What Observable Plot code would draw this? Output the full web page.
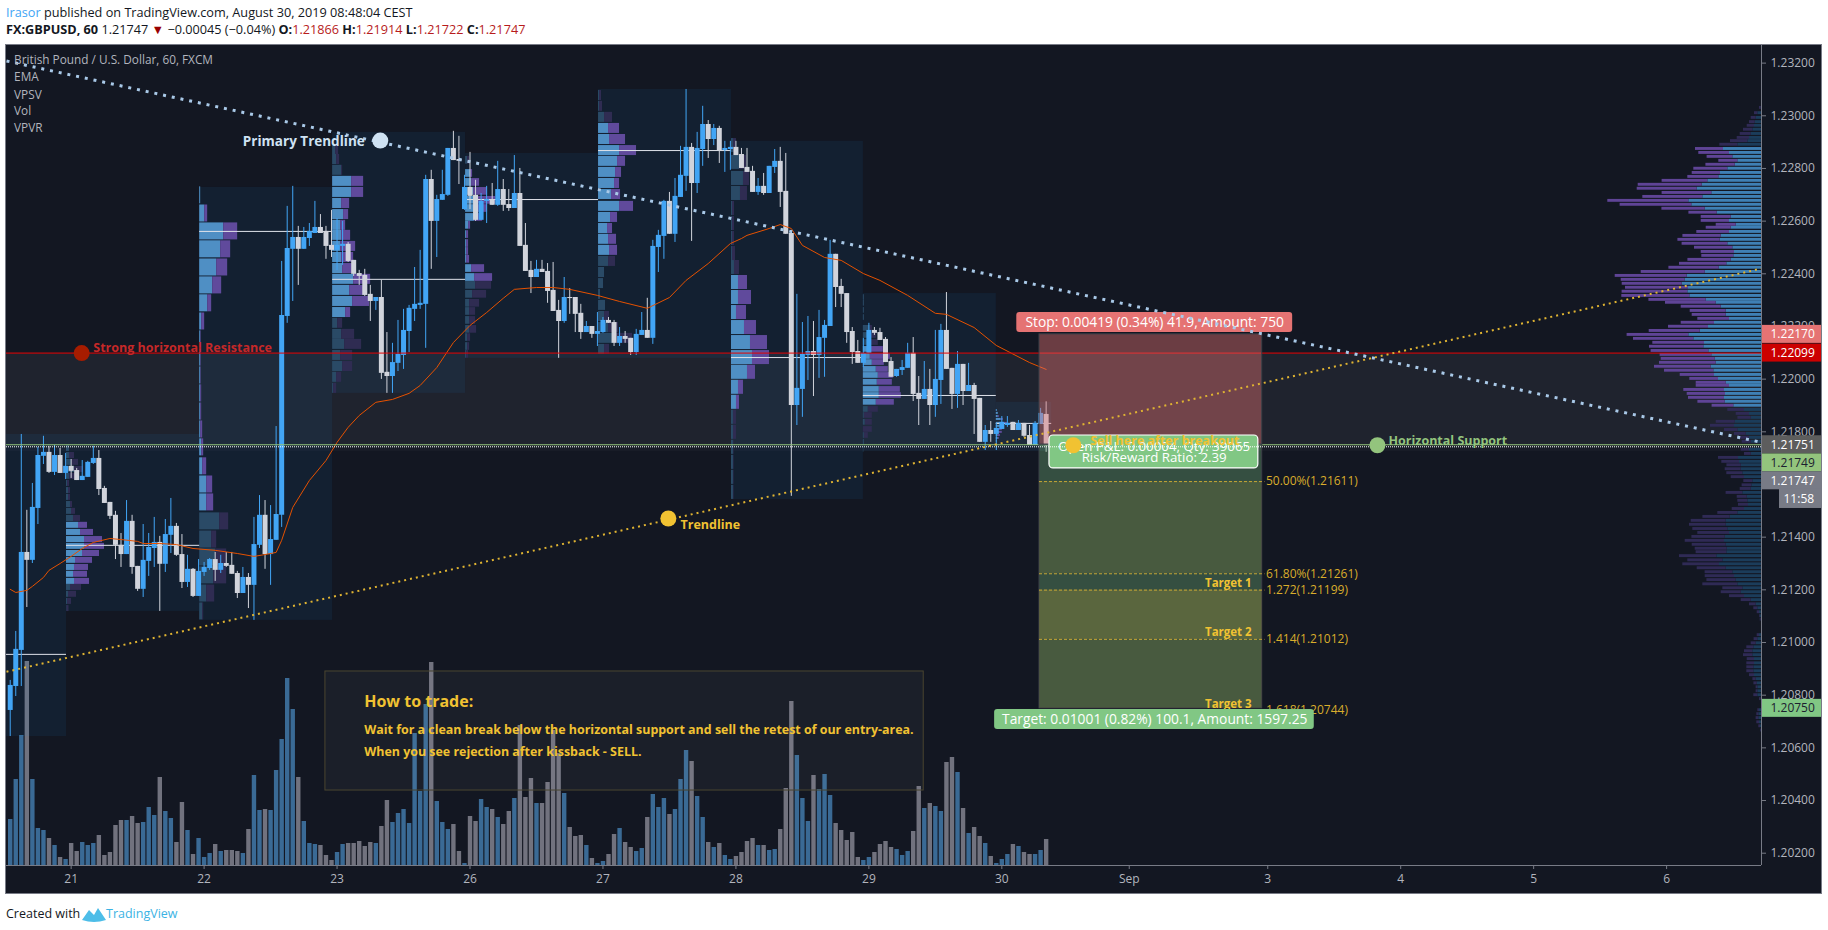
<!DOCTYPE html>
<html><head><meta charset="utf-8">
<script src="https://cdn.jsdelivr.net/npm/d3@7"></script>
<script src="https://cdn.jsdelivr.net/npm/@observablehq/plot@0.6"></script>
<style>
html,body{margin:0;padding:0;background:#fff;width:1828px;overflow:hidden}
body{font-family:"Open Sans",sans-serif}
#head{height:44px;position:relative;color:#131722;font-size:12.7px;white-space:nowrap}
#head div{position:absolute;left:6px}
#stage{position:relative;width:1828px;height:850px;background:#131722}
#stage svg{position:absolute;left:0;top:0}
#edge{position:absolute;left:5px;top:0;width:1815px;height:848px;border:1px solid #787b86;z-index:5;pointer-events:none}
#white{position:absolute;left:0;top:0;width:5px;height:850px;background:#fff}
#white2{position:absolute;left:1822px;top:0;width:6px;height:850px;background:#fff}
#foot{position:relative;height:36px;color:#131722;font-size:12.5px;white-space:nowrap}
#foot span,#foot svg{position:absolute}
</style></head><body>
<div id="head">
<div style="top:3px"><span style="color:#42a5f5">Irasor</span> published on TradingView.com, August 30, 2019 08:48:04 CEST</div>
<div style="top:20px"><b>FX:GBPUSD, 60</b> 1.21747 <span style="color:#990000">▼</span> −0.00045 (−0.04%) <b>O:</b><span style="color:#b71c1c">1.21866</span> <b>H:</b><span style="color:#b71c1c">1.21914</span> <b>L:</b><span style="color:#b71c1c">1.21722</span> <b>C:</b><span style="color:#b71c1c">1.21747</span></div>
</div>
<div id="stage"><div id="white"></div><div id="white2"></div><div id="edge"></div></div>
<div id="foot"><span style="left:6px;top:11px">Created with</span>
<svg style="left:82px;top:12px" width="24" height="17" viewBox="0 0 24 17"><path d="M0 14 L7 4 L12 9 L16 2 L24 14 Q12 18 0 14Z" fill="#4dbde8"/></svg>
<span style="left:106px;top:11px;color:#3bb3e4">TradingView</span></div>
<script>
const open=[1.20742,1.20833,1.20970,1.21342,1.21312,1.21509,1.21707,1.21722,1.21646,1.21710,
1.21642,1.21669,1.21653,1.21615,1.21627,1.21680,1.21699,1.21585,1.21532,1.21483,
1.21369,1.21334,1.21460,1.21289,1.21202,1.21308,1.21357,1.21380,1.21297,1.21407,
1.21441,1.21334,1.21228,1.21278,1.21175,1.21266,1.21281,1.21315,1.21274,1.21300,
1.21293,1.21262,1.21186,1.21247,1.21217,1.21369,1.21483,1.21334,1.21388,1.21483,
1.22238,1.22493,1.22538,1.22493,1.22534,1.22553,1.22576,1.22561,1.22508,1.22489,
1.22504,1.22512,1.22451,1.22401,1.22394,1.22322,1.22295,1.22310,1.22026,1.22010,
1.22060,1.22090,1.22181,1.22265,1.22280,1.22284,1.22758,1.22599,1.22679,1.22698,
1.22876,1.22834,1.22644,1.22728,1.22698,1.22603,1.22675,1.22682,1.22660,1.22720,
1.22663,1.22648,1.22705,1.22508,1.22413,1.22386,1.22417,1.22409,1.22337,1.22261,
1.22219,1.22310,1.22310,1.22250,1.22177,1.22200,1.22170,1.22177,1.22223,1.22215,
1.22136,1.22162,1.22155,1.22101,1.22166,1.22185,1.22155,1.22500,1.22542,1.22675,
1.22550,1.22690,1.22770,1.22880,1.22743,1.22872,1.22967,1.22910,1.22952,1.22868,
1.22872,1.22880,1.22853,1.22804,1.22789,1.22709,1.22732,1.22705,1.22804,1.22827,
1.22713,1.22553,1.21900,1.21961,1.22090,1.22105,1.22090,1.22155,1.22200,1.22474,
1.22352,1.22325,1.22181,1.22105,1.22060,1.22098,1.22185,1.22177,1.22151,1.22067,
1.22010,1.22033,1.22041,1.22098,1.21946,1.21923,1.21961,1.21900,1.21995,1.22185,
1.22041,1.21942,1.22056,1.21953,1.21976,1.21927,1.21760,1.21805,1.21790,1.21809,
1.21824,1.21836,1.21805,1.21832,1.21786,1.21748,1.21828,1.21866];
const high=[1.20856,1.21042,1.21790,1.21502,1.21604,1.21741,1.21783,1.21745,1.21748,1.21737,
1.21718,1.21695,1.21661,1.21691,1.21688,1.21745,1.21729,1.21593,1.21532,1.21498,
1.21414,1.21539,1.21483,1.21289,1.21448,1.21414,1.21475,1.21403,1.21467,1.21547,
1.21452,1.21410,1.21331,1.21281,1.21315,1.21304,1.21319,1.21342,1.21331,1.21342,
1.21342,1.21270,1.21285,1.21262,1.21475,1.21558,1.21539,1.21520,1.21820,1.22447,
1.22656,1.22732,1.22580,1.22576,1.22591,1.22675,1.22625,1.22580,1.22641,1.22610,
1.22599,1.22519,1.22451,1.22413,1.22417,1.22356,1.22310,1.22375,1.22177,1.22136,
1.22223,1.22265,1.22280,1.22424,1.22489,1.22774,1.22793,1.22698,1.22793,1.22876,
1.22941,1.22922,1.22774,1.22861,1.22755,1.22705,1.22732,1.22743,1.22827,1.22758,
1.22720,1.22849,1.22800,1.22591,1.22447,1.22451,1.22451,1.22439,1.22443,1.22299,
1.22386,1.22344,1.22310,1.22284,1.22219,1.22200,1.22253,1.22234,1.22234,1.22223,
1.22196,1.22181,1.22155,1.22189,1.22253,1.22307,1.22527,1.22565,1.22679,1.22709,
1.22762,1.22884,1.23100,1.22895,1.22937,1.23036,1.22982,1.22967,1.22960,1.22903,
1.22903,1.22903,1.22876,1.22876,1.22808,1.22762,1.22781,1.22808,1.22872,1.22880,
1.22857,1.22553,1.22322,1.22215,1.22238,1.22219,1.22261,1.22223,1.22527,1.22474,
1.22379,1.22325,1.22196,1.22147,1.22155,1.22212,1.22196,1.22193,1.22158,1.22082,
1.22037,1.22071,1.22136,1.22158,1.22010,1.22067,1.22037,1.22185,1.22208,1.22329,
1.22041,1.22105,1.22056,1.22060,1.21984,1.21927,1.21824,1.21839,1.21832,1.21858,
1.21858,1.21836,1.21843,1.21832,1.21824,1.21839,1.21889,1.21914];
const low=[1.20643,1.20795,1.20833,1.21133,1.21300,1.21448,1.21676,1.21642,1.21634,1.21642,
1.21619,1.21623,1.21615,1.21615,1.21627,1.21676,1.21558,1.21528,1.21467,1.21315,
1.21285,1.21334,1.21259,1.21194,1.21171,1.21251,1.21285,1.21118,1.21266,1.21338,
1.21327,1.21205,1.21209,1.21171,1.21175,1.21251,1.21274,1.21232,1.21262,1.21285,
1.21259,1.21167,1.21186,1.21129,1.21084,1.21357,1.21278,1.21217,1.21388,1.21437,
1.22212,1.22295,1.22356,1.22493,1.22504,1.22553,1.22553,1.22455,1.22462,1.22413,
1.22432,1.22443,1.22390,1.22356,1.22314,1.22219,1.22261,1.21999,1.21946,1.21946,
1.22029,1.22037,1.22101,1.22219,1.22265,1.22117,1.22417,1.22462,1.22679,1.22694,
1.22830,1.22739,1.22641,1.22644,1.22599,1.22603,1.22591,1.22660,1.22656,1.22637,
1.22637,1.22648,1.22504,1.22409,1.22325,1.22386,1.22405,1.22288,1.22257,1.22079,
1.22212,1.22246,1.22177,1.22151,1.22177,1.22155,1.22124,1.22174,1.22212,1.22124,
1.22124,1.22136,1.22090,1.22090,1.22166,1.22155,1.22132,1.22405,1.22455,1.22550,
1.22519,1.22690,1.22713,1.22523,1.22705,1.22808,1.22838,1.22887,1.22819,1.22785,
1.22793,1.22849,1.22800,1.22785,1.22709,1.22698,1.22698,1.22705,1.22781,1.22652,
1.22550,1.21555,1.21824,1.21855,1.21995,1.21934,1.22003,1.22007,1.22200,1.22272,
1.22272,1.22136,1.22056,1.22060,1.22044,1.22098,1.22166,1.22147,1.22063,1.22007,
1.22007,1.22014,1.22041,1.21915,1.21824,1.21923,1.21824,1.21855,1.21904,1.22037,
1.21885,1.21889,1.21900,1.21953,1.21790,1.21760,1.21729,1.21760,1.21729,1.21809,
1.21817,1.21805,1.21805,1.21779,1.21748,1.21748,1.21828,1.21722];
const close=[1.20837,1.20974,1.21342,1.21312,1.21513,1.21710,1.21722,1.21646,1.21710,1.21642,
1.21669,1.21650,1.21615,1.21631,1.21684,1.21699,1.21581,1.21528,1.21479,1.21369,
1.21334,1.21460,1.21285,1.21202,1.21312,1.21361,1.21380,1.21297,1.21410,1.21441,
1.21331,1.21228,1.21278,1.21175,1.21270,1.21285,1.21315,1.21274,1.21300,1.21289,
1.21259,1.21186,1.21247,1.21217,1.21372,1.21483,1.21334,1.21391,1.21486,1.22242,
1.22496,1.22538,1.22493,1.22538,1.22561,1.22576,1.22553,1.22504,1.22489,1.22508,
1.22512,1.22447,1.22398,1.22390,1.22318,1.22295,1.22310,1.22022,1.22010,1.22063,
1.22094,1.22185,1.22269,1.22284,1.22288,1.22758,1.22599,1.22682,1.22701,1.22876,
1.22830,1.22827,1.22728,1.22694,1.22603,1.22675,1.22682,1.22660,1.22720,1.22660,
1.22648,1.22705,1.22504,1.22409,1.22386,1.22417,1.22405,1.22333,1.22257,1.22219,
1.22310,1.22306,1.22246,1.22177,1.22200,1.22170,1.22181,1.22223,1.22212,1.22136,
1.22162,1.22151,1.22101,1.22170,1.22185,1.22155,1.22504,1.22546,1.22675,1.22550,
1.22694,1.22774,1.22880,1.22743,1.22876,1.22967,1.22910,1.22952,1.22868,1.22876,
1.22880,1.22849,1.22800,1.22785,1.22709,1.22732,1.22705,1.22808,1.22827,1.22709,
1.22550,1.21900,1.21965,1.22094,1.22105,1.22090,1.22158,1.22204,1.22474,1.22348,
1.22322,1.22177,1.22101,1.22060,1.22098,1.22185,1.22174,1.22147,1.22063,1.22007,
1.22037,1.22044,1.22098,1.21942,1.21923,1.21961,1.21900,1.21999,1.22185,1.22037,
1.21942,1.22056,1.21953,1.21976,1.21923,1.21760,1.21805,1.21790,1.21813,1.21836,
1.21832,1.21805,1.21832,1.21783,1.21748,1.21832,1.21870,1.21747];
const volume=[46,86,130,204,86,37,35,27,20,8,6,22,14,23,20,22,30,10,13,40,45,45,49,42,43,58,50,88,54,47,
23,63,35,11,27,8,12,21,14,15,15,14,12,36,90,55,56,55,95,126,187,156,88,44,22,21,20,10,5,13,
21,22,22,24,19,23,22,39,65,43,52,56,42,132,74,161,203,64,43,36,41,14,2,49,44,66,58,56,48,41,
54,67,140,68,87,62,62,83,135,112,72,38,29,30,20,7,2,4,11,31,37,23,18,14,17,48,71,58,67,51,
56,86,115,104,69,48,23,18,22,10,6,9,13,24,27,20,20,15,16,36,77,164,110,67,44,90,76,91,70,42,
35,25,33,8,5,8,13,21,24,18,16,10,14,34,79,57,62,59,54,103,108,93,57,32,38,29,22,9,2,6,
11,21,19,13,11,11,15,26];
const emaIndex=[0,1,3,4,6,7,9,11,13,15,18,20,23,24,27,30,33,37,41,44,46,48,49,51,54,57,59,61,63,66,69,72,74,77,80,83,86,89,91,95,98,101,106,110,115,119,122,126,130,132,133,137,139,141,143,147,150,154,157,162,167,169,174,178,184,187];
const emaValue=[1.21202,1.21190,1.21198,1.21213,1.21247,1.21274,1.21300,1.21327,1.21357,1.21380,1.21395,1.21391,1.21384,1.21376,1.21376,1.21372,1.21357,1.21350,1.21338,1.21327,1.21334,1.21342,1.21388,1.21513,1.21615,1.21691,1.21760,1.21817,1.21862,1.21912,1.21923,1.21946,1.21976,1.22044,1.22139,1.22204,1.22253,1.22307,1.22341,1.22348,1.22348,1.22341,1.22318,1.22295,1.22269,1.22310,1.22375,1.22439,1.22515,1.22534,1.22546,1.22572,1.22587,1.22572,1.22508,1.22462,1.22451,1.22401,1.22375,1.22318,1.22250,1.22246,1.22196,1.22128,1.22063,1.22037];
const dayIndex=[11,35,59,83,107,131,155,179,202,227,251,275,299];
const dayLabel=["21","22","23","26","27","28","29","30","Sep","3","4","5","6"];
const priceTicks=[1.202,1.204,1.206,1.208,1.21,1.212,1.214,1.216,1.218,1.22,1.222,1.224,1.226,1.228,1.23,1.232];
const sessStart=[-0.67,10.16,34.2,58.2,82.2,106.2,130.2,154,178];
const sessEnd=[10.16,34.2,58.2,82.2,106.2,130.2,154,178,188];
const sessTop=[1.21790,1.21790,1.22728,1.22937,1.22857,1.23100,1.22903,1.22325,1.21912];
const sessBottom=[1.20643,1.21118,1.21084,1.21946,1.22079,1.22079,1.21543,1.21726,1.21726];
const sessPoc=[1.20955,1.21369,1.22561,1.22379,1.22682,1.22868,1.22082,1.21938,1.21832];
const sessVaHigh=[0,1.21450,1.22700,1.22755,1.22785,1.22955,1.22370,1.22115,1.21900];
const sessVaLow=[0,1.21230,1.21530,1.22250,1.22385,1.22485,1.21910,1.21910,1.21750];
const sessRowHalf=[0,0.000114,0.000323,0.00019,0.000146,0.00019,0.000266,0.000108,0.000038];
const profSession=[1,1,1,1,1,1,1,1,1,1,1,1,1,1,1,1,1,1,1,1,1,1,1,1,
2,2,2,2,2,2,2,2,2,2,2,2,2,2,2,2,2,2,2,2,2,2,2,2,
3,3,3,3,3,3,3,3,3,3,3,3,3,3,3,3,3,3,3,3,3,3,3,
4,4,4,4,4,4,4,4,4,4,4,4,4,4,4,4,4,4,4,4,4,4,4,
5,5,5,5,5,5,5,5,5,5,5,5,5,5,5,5,5,5,5,5,5,5,5,5,
6,6,6,6,6,6,6,6,6,6,6,6,6,6,6,6,6,6,6,6,6,6,6,6,
7,7,7,7,7,7,7,7,7,7,7,7,7,7,7,7,7,7,7,7,7,7,7,
8,8,8,8,8,8,8,8,8,8,8];
const profPrice=[1.21737,1.21710,1.21684,1.21657,1.21631,1.21604,1.21577,1.21551,1.21524,1.21498,1.21471,1.21445,1.21418,1.21391,1.21365,1.21338,1.21312,1.21285,1.21259,1.21232,1.21209,1.21183,1.21156,1.21129,
1.22698,1.22629,1.22561,1.22493,1.22424,1.22356,1.22288,1.22219,1.22151,1.22082,1.22014,1.21946,1.21877,1.21809,1.21741,1.21669,1.21600,1.21532,1.21460,1.21391,1.21323,1.21255,1.21186,1.21118,
1.22872,1.22834,1.22793,1.22751,1.22709,1.22667,1.22625,1.22584,1.22546,1.22504,1.22462,1.22420,1.22379,1.22337,1.22295,1.22253,1.22212,1.22170,1.22132,1.22090,1.22048,1.22007,1.21965,
1.22831,1.22781,1.22747,1.22713,1.22679,1.22648,1.22614,1.22584,1.22549,1.22515,1.22485,1.22455,1.22420,1.22386,1.22356,1.22322,1.22288,1.22257,1.22223,1.22189,1.22158,1.22124,1.22094,
1.23077,1.23036,1.22994,1.22952,1.22910,1.22868,1.22827,1.22785,1.22743,1.22701,1.22656,1.22614,1.22572,1.22531,1.22489,1.22447,1.22405,1.22363,1.22322,1.22280,1.22238,1.22196,1.22155,1.22113,
1.22887,1.22823,1.22762,1.22705,1.22648,1.22591,1.22534,1.22477,1.22424,1.22367,1.22310,1.22253,1.22196,1.22139,1.22082,1.22026,1.21969,1.21912,1.21855,1.21798,1.21741,1.21684,1.21627,1.21570,
1.22310,1.22288,1.22261,1.22234,1.22193,1.22166,1.22139,1.22113,1.22086,1.22063,1.22037,1.22014,1.21988,1.21961,1.21938,1.21912,1.21885,1.21862,1.21836,1.21809,1.21786,1.21760,1.21733,
1.21881,1.21870,1.21858,1.21847,1.21832,1.21821,1.21809,1.21798,1.21786,1.21775,1.21764];
const profUp=[3,3,5,8,3,1,2,2,4,5,7,12,14,18,18,16,9,8,7,8,4,2,1,0.5,
1,5,24,21,17,13,8,2,1,1,1,1,1,1,2,3,7,7,20,12,16,14,7,3,
3,4,9,19,19,9,11,8,9,8,9,10,21,17,20,13,5,9,12,8,10,4,1,
2,5,6,8,11,9,9,3,1,1,1,1,6,9,10,7,4,4,4,4,2,2,1,
1,1,6,10,11,21,19,17,16,13,21,12,9,10,11,10,6,5,2,7,6,10,15,6,
2,8,12,9,1,1,1,1,3,7,7,5,13,19,21,16,7,5,2,2,2,2,2,2,
1,1,1,1,7,5,6,7,7,9,13,15,14,16,16,13,5,1,2,0,1,1,0.5,
1,2,2,5,7,5,3,3,2,2,1];
const profDown=[0,5,7,9,6,2,2,2,2,4,7,9,13,18,20,17,17,14,14,15,11,8,4,2,
0,3,14,10,11,9,4,3,0.5,0.5,0.5,1,1,2,2,4,6,7,9,5,11,13,8,1,
3,3,1,12,12,8,5,5,9,15,12,10,17,18,17,5,5,13,17,12,10,5,3,
2,2,8,14,19,13,8,2,2,2,2,3,13,18,16,14,10,6,6,7,3,2,2,
2,3,8,11,16,17,8,6,5,9,14,7,5,8,8,7,0,0,0,0,5,10,19,5,
3,7,6,7,2,2,2,3,5,9,13,10,12,17,17,8,5,3,3,3,0.5,0.5,0.5,0.5,
0,0,0,0,2,8,9,13,20,12,12,15,15,21,22,18,10,8,7,9,4,0,0,
0,0,1,2,4,3,3,3,2,1,0];
const vpvrPrice=[1.23030,1.23010,1.22992,1.22976,1.22962,1.22947,1.22931,1.22916,1.22904,1.22890,1.22874,1.22859,1.22844,1.22829,1.22814,1.22799,1.22783,1.22768,1.22753,1.22738,1.22723,1.22707,1.22692,1.22677,1.22662,1.22647,1.22632,1.22616,1.22601,1.22586,1.22575,1.22559,1.22544,1.22529,1.22514,1.22499,1.22483,1.22468,1.22453,1.22438,1.22423,1.22407,1.22392,1.22377,1.22362,1.22347,1.22332,1.22316,1.22301,1.22290,1.22275,1.22259,1.22244,1.22229,1.22214,1.22199,1.22183,1.22168,1.22153,1.22138,1.22123,1.22107,1.22092,1.22077,1.22062,1.22047,1.22032,1.22016,1.22001,1.21986,1.21975,1.21959,1.21944,1.21929,1.21914,1.21899,1.21883,1.21868,1.21853,1.21838,1.21823,1.21807,1.21792,1.21777,1.21762,1.21732,1.21716,1.21701,1.21686,1.21673,1.21658,1.21643,1.21628,1.21613,1.21597,1.21583,1.21568,1.21553,1.21538,1.21523,1.21507,1.21492,1.21477,1.21462,1.21447,1.21431,1.21416,1.21401,1.21386,1.21371,1.21356,1.21343,1.21328,1.21312,1.21297,1.21282,1.21267,1.21252,1.21237,1.21221,1.21206,1.21191,1.21176,1.21161,1.21145,1.21130,1.21115,1.21100,1.21087,1.21028,1.21013,1.20997,1.20982,1.20967,1.20952,1.20937,1.20921,1.20906,1.20891,1.20876,1.20861,1.20845,1.20830,1.20815,1.20800,1.20785,1.20743,1.20728,1.20713,1.20697,1.20682,1.20666];
const vpvrUp=[0.3,3.7,5.3,6.3,7,8.7,10.3,12,13.7,23.7,38,32,28.7,23.7,26.3,33.7,41,42.7,53.7,59.3,64.3,49.7,58.7,72.7,69.7,56.3,44.3,30.3,32,25.3,30.3,32,40.3,41.3,33.7,28.7,27,27.7,30.3,34.7,42.3,56.3,74.3,76.3,79.3,73,73.7,71.7,55.3,45.3,40.3,35.3,35.3,32,47,53,61.3,72.7,67.7,57,57.7,52.7,49.7,46.3,45.3,50.3,47.7,47,43,35.3,32,37,36,37,36.3,27.7,17,12,10.3,26.3,27,23.7,15.3,12,10.3,12,10.3,23,22,20.3,20.3,18.7,17,8.7,9.7,10.3,18.7,14.3,13.7,13,17,23.7,31.3,35.3,35.3,33.7,32,36.3,37,35.3,34.3,34.7,44.7,38.7,42,35.3,28.7,27,25.3,23.7,18.7,20.3,17,10.3,5.3,3.7,2,1.3,0.3,2,3.7,5.3,7.7,8.7,8.7,7,7,7.7,7.7,7,5.3,4.3,3.7,3.7,3.7,0.5,2,2.7,2.7,2,1,0.3];
const vpvrDown=[1.7,3.3,5,5.7,7.3,9.3,11,12.3,17.3,18,28,30.7,25.7,19,29.3,34,28.3,31,45.7,64,60,49.7,60,81,71.7,43.3,28.3,30,28.3,20,25,32.7,38.3,42.3,45.7,38.3,33.3,32,43.3,47.3,50.3,64,72,64,60,63,65.7,68,57.3,50.7,40,36,34,31.7,33.3,40,51,61.7,60.3,51.7,54.3,57.7,51.7,54,56.7,56.7,49.3,34.3,28.7,30,33.3,40.7,38.3,36,27.3,21.7,16.7,13.3,13.3,19,24,13.3,11.7,11.7,9,8.3,6.7,20,17.7,14.3,16,16,13.3,9,9.7,11,16.7,10,10,10,12.3,20,27.3,35,36.7,35,31.7,33.3,39.3,34,32,30.7,37.3,35,36.7,29,27.7,29.3,29.3,35,20,20,15,10,6.7,4,2.3,0.7,1,2.3,3.7,5,7,8.3,9.3,7.3,7.7,7,7,5,3.3,3.3,1.7,1.7,4,1.5,1.7,2,2.7,2.7,1.7,0.7];
const vpvrVaHigh=1.22880, vpvrVaLow=1.21895;
const fibPrice=[1.21611,1.21261,1.21199,1.21012,1.20744];
const fibLabel=["50.00%(1.21611)","61.80%(1.21261)","1.272(1.21199)","1.414(1.21012)","1.618(1.20744)"];
const targetPrice=[1.21224,1.21037,1.20767];
const targetLabel=["Target 1","Target 2","Target 3"];
const tagPrice=[1.22170,1.22099,1.21751,1.21682,1.21614,1.20750];
const tagLabel=["1.22170","1.22099","1.21751","1.21749","1.21747","1.20750"];
const tagFill=["#e57373","#cc0000","#5d5d5d","#93c47d","#787b86","#81c784"];
const tagColor=["#ffffff","#ffffff","#ffffff","#1c2030","#ffffff","#1c2030"];
const legendLabel=["British Pound / U.S. Dollar, 60, FXCM","EMA","VPSV","Vol","VPVR"];
const legendPrice=[1.23210,1.23145,1.23080,1.23017,1.22952];

const xMin=-0.67,xMax=316.13,yBottom=1.201533,yTop=1.232707;
const UP="#42a5f5",DOWN="#d1d4dc",GOLD="#f1c232",FONT="Open Sans";
const perUnit=1/5.54;
const candles=open.map((o,i)=>({i,o,h:high[i],l:low[i],c:close[i],v:volume[i],color:close[i]>=o?UP:DOWN,vcolor:close[i]>=o?"#3a6a95":"#71727e",top:Math.max(o,close[i]),bot:Math.min(o,close[i])}));
const sessions=sessStart.map((s,k)=>({s,e:sessEnd[k],t:sessTop[k],b:sessBottom[k],poc:sessPoc[k]}));
const profile=profPrice.map((p,k)=>{const s=profSession[k],bright=p<=sessVaHigh[s]&&p>=sessVaLow[s],x0=sessStart[s],h=sessRowHalf[s];
 return {x0,x1:x0+profUp[k]*perUnit,x2:x0+(profUp[k]+profDown[k])*perUnit,y1:p-h,y2:p+h,cu:bright?"#4f8fc4":"#2a4a66",cd:bright?"#604a9c":"#2f2c52"};});
const vpvr=vpvrPrice.map((p,k)=>{const bright=p<=vpvrVaHigh&&p>=vpvrVaLow;
 return {x1:xMax-vpvrUp[k]*perUnit,x2:xMax-(vpvrUp[k]+vpvrDown[k])*perUnit,y1:p-0.000055,y2:p+0.000055,cu:bright?"#3f80b5":"#1b3c5a",cd:bright?"#5f4496":"#2f2a55"};});
const ema=emaIndex.map((i,k)=>({i,p:emaValue[k]}));
const primary=[{i:xMin,p:1.23208},{i:xMax,p:1.21760}];
const golden=[{i:xMin,p:1.20889},{i:xMax,p:1.22420}];
const tags=tagPrice.map((p,k)=>({p,l:tagLabel[k],f:tagFill[k],c:tagColor[k],x:xMax}));
const circles=[{i:66.8,p:1.22906,f:"#cfe2f3"},{i:12.9,p:1.22099,f:"#a61c00"},{i:118.8,p:1.21471,f:GOLD},{i:246.8,p:1.21749,f:"#93c47d"},{i:191.9,p:1.21749,f:GOLD}];
const txt=(rows,o)=>Plot.text(rows,{x:"i",y:"p",text:"t",fontFamily:FONT,...o});

const base={width:1828,height:850,marginLeft:6,marginRight:67,marginTop:0,marginBottom:29,
 x:{type:"linear",domain:[xMin,xMax]},color:{type:"identity"},
 style:{background:"transparent",position:"absolute",left:0,top:0,overflow:"visible"}};

const volPlot=Plot.plot({...base,y:{domain:[0,204],range:[821,617]},axis:null,
 marks:[Plot.ruleX(candles,{x:"i",y1:0,y2:"v",stroke:"vcolor",strokeWidth:4.4})]});

const main=Plot.plot({...base,y:{domain:[yBottom,yTop]},
 marks:[
  Plot.rect([{}],{x1:()=>xMin,x2:()=>xMax,y1:()=>1.22099,y2:()=>1.21749,fill:"#ffffff",fillOpacity:0.055}),
  Plot.rect([{}],{x1:()=>xMin,x2:()=>xMax,y1:()=>1.21749,y2:()=>1.21725,fill:"#ffffff",fillOpacity:0.025}),
  Plot.rect(sessions,{x1:"s",x2:"e",y1:"b",y2:"t",fill:"#2196f3",fillOpacity:0.075}),
  Plot.rect(profile,{x1:"x0",x2:"x1",y1:"y1",y2:"y2",fill:"cu"}),
  Plot.rect(profile,{x1:"x1",x2:"x2",y1:"y1",y2:"y2",fill:"cd"}),
  Plot.rect(vpvr,{x1:"x1",x2:()=>xMax,y1:"y1",y2:"y2",fill:"cu"}),
  Plot.rect(vpvr,{x1:"x2",x2:"x1",y1:"y1",y2:"y2",fill:"cd"}),
  Plot.ruleY(sessions,{y:"poc",x1:"s",x2:"e",stroke:"#e0e3eb",strokeWidth:1}),
  Plot.ruleX(candles,{x:"i",y1:"l",y2:"h",stroke:"color",strokeWidth:1}),
  Plot.ruleX(candles,{x:"i",y1:"bot",y2:"top",stroke:"color",strokeWidth:5}),
  Plot.line(ema,{x:"i",y:"p",stroke:"#e65100",strokeWidth:1}),
  Plot.ruleY([1.22099],{stroke:"#e60000",strokeWidth:1}),
  Plot.ruleY([1.21751],{stroke:"#93c47d",strokeWidth:1.2}),
  Plot.rect([{}],{x1:()=>185.8,x2:()=>226,y1:()=>1.21751,y2:()=>1.22170,fill:"#e57373",fillOpacity:0.42,stroke:"#3c4048"}),
  Plot.rect([{}],{x1:()=>185.8,x2:()=>226,y1:()=>1.20750,y2:()=>1.21751,fill:"#81c784",fillOpacity:0.32,stroke:"#3c4048"}),
  Plot.rect([{}],{x1:()=>185.8,x2:()=>226,y1:()=>1.21261,y2:()=>1.21611,fill:GOLD,fillOpacity:0.1}),
  Plot.rect([{}],{x1:()=>185.8,x2:()=>226,y1:()=>1.21012,y2:()=>1.21199,fill:GOLD,fillOpacity:0.2}),
  Plot.rect([{}],{x1:()=>185.8,x2:()=>226,y1:()=>1.20750,y2:()=>1.21012,fill:GOLD,fillOpacity:0.1}),
  Plot.ruleY(fibPrice,{x1:()=>185.8,x2:()=>226.5,stroke:GOLD,strokeOpacity:0.75,strokeWidth:1,strokeDasharray:"3 2"}),
  Plot.text(fibPrice,{x:()=>226.5,y:d=>d,text:(d,k)=>fibLabel[k],dx:1,textAnchor:"start",fill:"#d9ad2c",fontSize:12,fontFamily:FONT}),
  Plot.text(targetPrice,{x:()=>224.1,y:d=>d,text:(d,k)=>targetLabel[k],textAnchor:"end",fill:GOLD,fontSize:11.5,fontWeight:"bold",fontFamily:FONT}),
  Plot.rect([{}],{x1:()=>181.7,x2:()=>231.5,y1:()=>1.22177,y2:()=>1.22253,fill:"#e57373",rx:3}),
  Plot.text(["Stop: 0.00419 (0.34%) 41.9, Amount: 750"],{x:()=>206.6,y:()=>1.22215,text:d=>d,fill:"#fff",fontSize:13.8,fontFamily:FONT}),
  Plot.rect([{}],{x1:()=>187.6,x2:()=>225.3,y1:()=>1.21661,y2:()=>1.21786,fill:"#81c784",stroke:"#ffffff",strokeWidth:1.2,rx:4}),
  Plot.text(["Open P&L: 0.00004, Qty: 39065"],{x:()=>206.5,y:()=>1.21745,text:d=>d,fill:"#fff",fontSize:13.3,fontFamily:FONT}),
  Plot.text(["Risk/Reward Ratio: 2.39"],{x:()=>206.5,y:()=>1.21703,text:d=>d,fill:"#fff",fontSize:13.3,fontFamily:FONT}),
  Plot.rect([{}],{x1:()=>177.7,x2:()=>235.4,y1:()=>1.20670,y2:()=>1.20746,fill:"#81c784",rx:3}),
  Plot.text(["Target: 0.01001 (0.82%) 100.1, Amount: 1597.25"],{x:()=>206.6,y:()=>1.20708,text:d=>d,fill:"#fff",fontSize:13.8,fontFamily:FONT}),
  Plot.ruleY([1.21747],{stroke:"#ffffff",strokeWidth:1,strokeDasharray:"1 1",dy:1}),
  Plot.line(primary,{x:"i",y:"p",stroke:"#a9c9e8",strokeWidth:3,strokeDasharray:"3 5.9",strokeLinecap:"butt"}),
  Plot.line(golden,{x:"i",y:"p",stroke:"#e0b432",strokeWidth:2,strokeDasharray:"2 4",strokeLinecap:"butt"}),
  Plot.dot(circles,{x:"i",y:"p",r:8,fill:"f"}),
  txt([{i:64,p:1.22903,t:"Primary Trendline"}],{textAnchor:"end",fill:"#cfe2f3",fontWeight:"bold",fontSize:13.5}),
  txt([{i:15,p:1.22120,t:"Strong horizontal Resistance"}],{textAnchor:"start",fill:"#c62828",fontWeight:"bold",fontSize:12.5}),
  txt([{i:121,p:1.21445,t:"Trendline"}],{textAnchor:"start",fill:GOLD,fontWeight:"bold",fontSize:12.5}),
  txt([{i:248.8,p:1.21767,t:"Horizontal Support"}],{textAnchor:"start",fill:"#93c47d",fontWeight:"bold",fontSize:12.5}),
  txt([{i:195,p:1.21767,t:"Sell here after breakout"}],{textAnchor:"start",fill:GOLD,fontWeight:"bold",fontSize:12.5}),
  Plot.rect([{}],{x1:()=>56.9,x2:()=>164.9,y1:()=>1.20438,y2:()=>1.20890,fill:"#ffffff",fillOpacity:0.035,stroke:"#4a4530"}),
  txt([{i:63.9,p:1.20776,t:"How to trade:"}],{textAnchor:"start",fill:GOLD,fontWeight:"bold",fontSize:16}),
  txt([{i:63.9,p:1.20666,t:"Wait for a clean break below the horizontal support and sell the retest of our entry-area."}],{textAnchor:"start",fill:GOLD,fontWeight:"bold",fontSize:12.45}),
  txt([{i:63.9,p:1.20583,t:"When you see rejection after kissback - SELL."}],{textAnchor:"start",fill:GOLD,fontWeight:"bold",fontSize:12.45}),
  Plot.text(legendLabel,{x:()=>0.7,y:(d,k)=>legendPrice[k],text:d=>d,textAnchor:"start",fill:"#b2b5be",fontSize:11.8,fontFamily:FONT}),
  Plot.ruleX([xMax],{stroke:"#787b86",strokeWidth:1}),
  Plot.ruleY([yBottom],{x1:()=>xMin,x2:()=>xMax,stroke:"#787b86",strokeWidth:1}),
  Plot.axisX(dayIndex,{anchor:"bottom",tickSize:4,tickPadding:5,stroke:"#787b86",fill:"#b2b5be",fontSize:12,fontFamily:FONT,label:null,tickFormat:d=>dayLabel[dayIndex.indexOf(d)]}),
  Plot.axisY(priceTicks,{anchor:"right",tickSize:4,tickPadding:5,stroke:"#787b86",fill:"#b2b5be",fontSize:12,fontFamily:FONT,label:null,tickFormat:d=>d.toFixed(5)}),
  Plot.rect(tags,{x1:"x",x2:"x",y1:"p",y2:"p",insetLeft:1,insetRight:-60,insetTop:-9,insetBottom:-9,fill:"f"}),
  Plot.text(tags,{x:"x",y:"p",text:"l",dx:9,textAnchor:"start",fill:"c",fontSize:12,fontFamily:FONT}),
  Plot.rect([{x:xMax,p:1.21545}],{x1:"x",x2:"x",y1:"p",y2:"p",insetLeft:18,insetRight:-60,insetTop:-9.5,insetBottom:-9.5,fill:"#787b86"}),
  Plot.text([{x:xMax,p:1.21545}],{x:"x",y:"p",text:()=>"11:58",dx:22,textAnchor:"start",fill:"#ffffff",fontSize:12,fontFamily:FONT})
 ]});
const stage=document.getElementById("stage");
stage.insertBefore(volPlot,stage.firstChild);
stage.insertBefore(main,volPlot.nextSibling);
</script>
</body></html>
